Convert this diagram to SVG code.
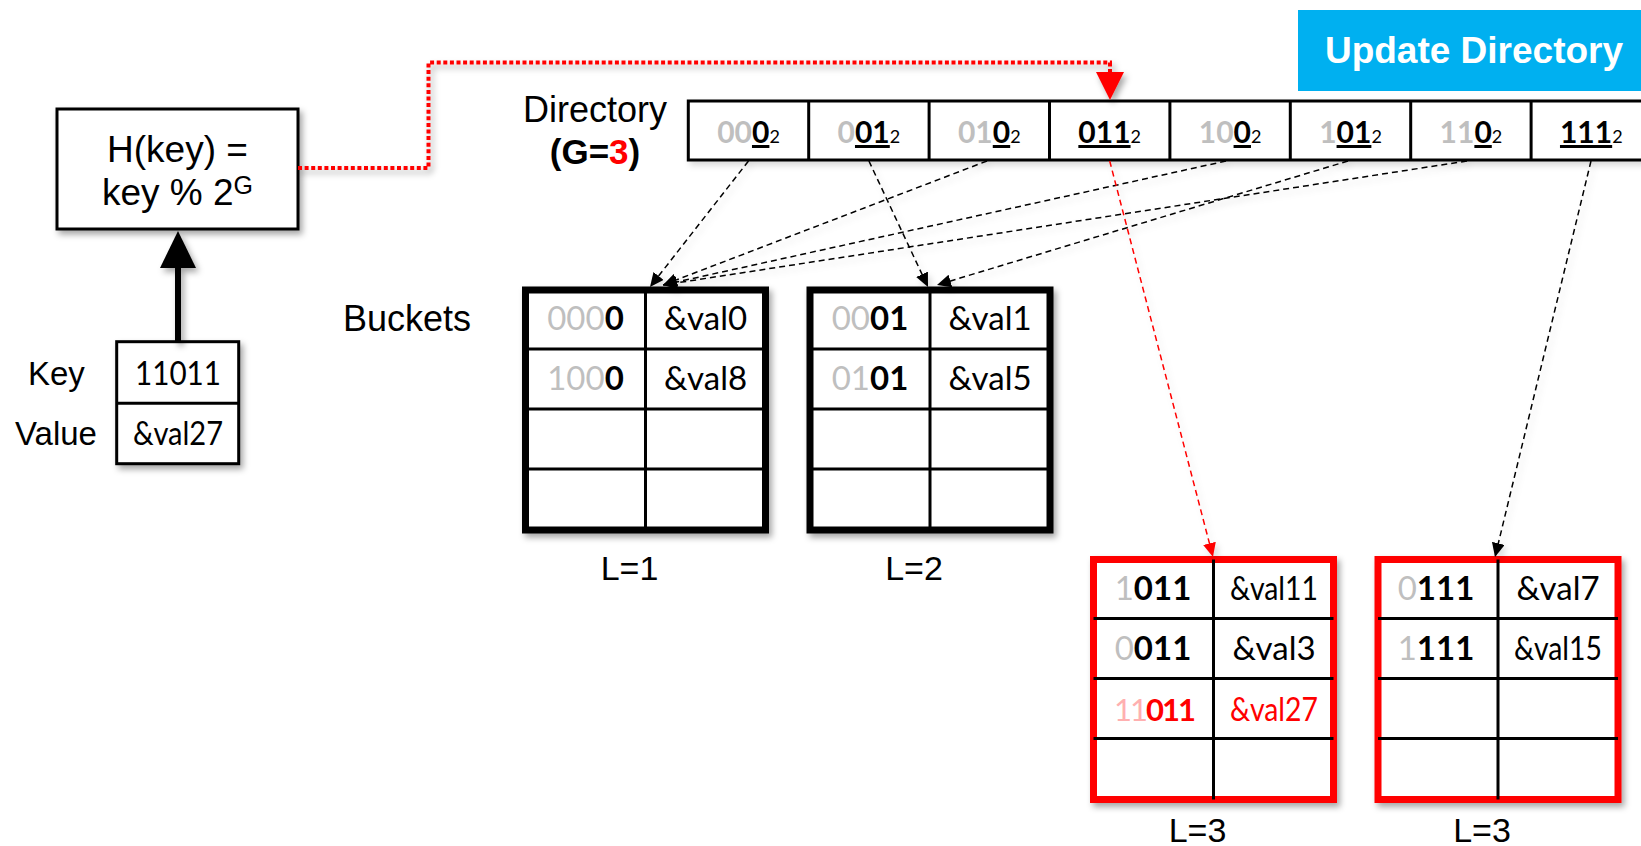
<svg xmlns="http://www.w3.org/2000/svg" width="1641" height="846" viewBox="0 0 1641 846">
<style>
.bk{fill:#fff;stroke:#000;stroke-width:7}
.bkr{fill:#fff;stroke:#FF0000;stroke-width:7}
.box{fill:#fff;stroke:#000;stroke-width:3}
.gl{stroke:#000;stroke-width:3;fill:none}
.ar{font-family:"Liberation Sans",Arial,sans-serif;fill:#000}
.ct{font-family:Lato,"Liberation Sans",sans-serif;font-size:33px;text-anchor:middle;fill:#000}
.dt{font-family:Lato,"Liberation Sans",sans-serif;font-size:30px;font-weight:bold;text-anchor:middle;fill:#000}
.g{fill:#BFBFBF;font-weight:normal}
.gd{fill:#BFBFBF}
.b{font-weight:bold}
.u{text-decoration:underline;text-decoration-thickness:3px}
.sub{font-size:18px;font-weight:normal}
.lbl{font-family:"Liberation Sans",Arial,sans-serif;font-size:34px;text-anchor:middle;fill:#000}
.dash{fill:none;stroke:#000;stroke-width:1.5;stroke-dasharray:6 4}
</style>
<defs>
<filter id="sh" x="-10%" y="-10%" width="130%" height="130%">
<feDropShadow dx="3" dy="4" stdDeviation="3" flood-color="#000" flood-opacity="0.35"/>
</filter>
<filter id="shl" x="-10%" y="-10%" width="130%" height="130%">
<feDropShadow dx="3" dy="4" stdDeviation="3" flood-color="#000" flood-opacity="0.15"/>
</filter>
<marker id="ah" markerUnits="userSpaceOnUse" markerWidth="14" markerHeight="13" refX="14" refY="6.5" orient="auto">
<path d="M0,0 L14,6.5 L0,13 z" fill="#000"/>
</marker>
<marker id="ahr" markerUnits="userSpaceOnUse" markerWidth="14" markerHeight="13" refX="14" refY="6.5" orient="auto">
<path d="M0,0 L14,6.5 L0,13 z" fill="#FF0000"/>
</marker>
</defs>

<rect width="1641" height="846" fill="#fff"/>

<g id="update-directory">
<rect x="1298" y="10" width="350" height="81" fill="#00B0F0"/>
<text x="1474" y="63" class="ar" style="font-size:37px;font-weight:bold;fill:#fff;text-anchor:middle">Update Directory</text>
</g>

<g id="hash">
<rect x="57" y="109" width="241" height="120" class="box" filter="url(#sh)"/>
<text x="177.5" y="162" class="ar" style="font-size:37px;text-anchor:middle">H(key) =</text>
<text x="177.5" y="205" class="ar" style="font-size:37px;text-anchor:middle">key % 2<tspan dy="-11" style="font-size:25px">G</tspan></text>
</g>

<g id="labels">
<text x="595" y="122" class="ar" style="font-size:36px;text-anchor:middle">Directory</text>
<text x="595" y="164" class="ar" style="font-size:35px;font-weight:bold;text-anchor:middle">(G=<tspan fill="#FF0000">3</tspan>)</text>
<text x="343" y="331" class="ar" style="font-size:36px">Buckets</text>
<text x="28" y="385" class="ar" style="font-size:33px">Key</text>
<text x="15" y="445" class="ar" style="font-size:33px">Value</text>
</g>

<g id="record">
<rect x="116.7" y="341.7" width="122" height="122" class="box" filter="url(#sh)"/>
<line x1="116.7" y1="403.3" x2="238.7" y2="403.3" class="gl"/>
<text x="178" y="385" class="ct" style="font-size:33px" textLength="86" lengthAdjust="spacingAndGlyphs">11011</text>
<text x="178" y="445" class="ct" style="font-size:33px" textLength="90" lengthAdjust="spacingAndGlyphs">&amp;val27</text>
</g>

<g id="directory">
<rect x="688.3" y="101" width="960" height="59" class="box" filter="url(#shl)"/>
<path class="gl" d="M808.7,101V160M929.1,101V160M1049.5,101V160M1169.9,101V160M1290.3,101V160M1410.7,101V160M1531.1,101V160"/>
<text x="748.5" y="143" class="dt"><tspan class="gd">00</tspan><tspan class="u">0</tspan><tspan class="sub">2</tspan></text>
<text x="868.9" y="143" class="dt"><tspan class="gd">0</tspan><tspan class="u">01</tspan><tspan class="sub">2</tspan></text>
<text x="989.3" y="143" class="dt"><tspan class="gd">01</tspan><tspan class="u">0</tspan><tspan class="sub">2</tspan></text>
<text x="1109.7" y="143" class="dt"><tspan class="u">011</tspan><tspan class="sub">2</tspan></text>
<text x="1230.1" y="143" class="dt"><tspan class="gd">10</tspan><tspan class="u">0</tspan><tspan class="sub">2</tspan></text>
<text x="1350.5" y="143" class="dt"><tspan class="gd">1</tspan><tspan class="u">01</tspan><tspan class="sub">2</tspan></text>
<text x="1470.9" y="143" class="dt"><tspan class="gd">11</tspan><tspan class="u">0</tspan><tspan class="sub">2</tspan></text>
<text x="1591.3" y="143" class="dt"><tspan class="u">111</tspan><tspan class="sub">2</tspan></text>
</g>

<g id="bucket1">
<rect x="525.5" y="290" width="240" height="240" class="bk" filter="url(#sh)"/>
<path class="gl" d="M645.5,290V530M525.5,349H765.5M525.5,409H765.5M525.5,469H765.5"/>
<text x="585.5" y="330" class="ct"><tspan class="g">000</tspan><tspan class="b">0</tspan></text>
<text x="705.5" y="330" class="ct">&amp;val0</text>
<text x="585.5" y="390" class="ct"><tspan class="g">100</tspan><tspan class="b">0</tspan></text>
<text x="705.5" y="390" class="ct">&amp;val8</text>
<text x="629.5" y="580" class="lbl">L=1</text>
</g>

<g id="bucket2">
<rect x="810" y="290" width="240" height="240" class="bk" filter="url(#sh)"/>
<path class="gl" d="M930,290V530M810,349H1050M810,409H1050M810,469H1050"/>
<text x="870" y="330" class="ct"><tspan class="g">00</tspan><tspan class="b">01</tspan></text>
<text x="990" y="330" class="ct">&amp;val1</text>
<text x="870" y="390" class="ct"><tspan class="g">01</tspan><tspan class="b">01</tspan></text>
<text x="990" y="390" class="ct">&amp;val5</text>
<text x="914" y="580" class="lbl">L=2</text>
</g>

<g id="bucket3">
<rect x="1093.5" y="559.5" width="240" height="240" class="bkr" filter="url(#sh)"/>
<path class="gl" d="M1213.5,559.5V799.5M1093.5,618.5H1333.5M1093.5,678.5H1333.5M1093.5,738.5H1333.5"/>
<text x="1153" y="599.5" class="ct"><tspan class="g">1</tspan><tspan class="b">011</tspan></text>
<text x="1274" y="599.5" class="ct" textLength="88" lengthAdjust="spacingAndGlyphs">&amp;val11</text>
<text x="1153" y="659.5" class="ct"><tspan class="g">0</tspan><tspan class="b">011</tspan></text>
<text x="1274" y="659.5" class="ct">&amp;val3</text>
<text x="1154" y="720.5" class="ct" style="font-size:31px;letter-spacing:-2px"><tspan fill="#FFB0B0">11</tspan><tspan class="b" fill="#FF0000">011</tspan></text>
<text x="1274" y="720.5" class="ct" style="fill:#FF0000" textLength="88" lengthAdjust="spacingAndGlyphs">&amp;val27</text>
<text x="1197.5" y="842" class="lbl">L=3</text>
</g>

<g id="bucket4">
<rect x="1378" y="559.5" width="240" height="240" class="bkr" filter="url(#sh)"/>
<path class="gl" d="M1498,559.5V799.5M1378,618.5H1618M1378,678.5H1618M1378,738.5H1618"/>
<text x="1436" y="599.5" class="ct"><tspan class="g">0</tspan><tspan class="b">111</tspan></text>
<text x="1558" y="599.5" class="ct">&amp;val7</text>
<text x="1436" y="659.5" class="ct"><tspan class="g">1</tspan><tspan class="b">111</tspan></text>
<text x="1558" y="659.5" class="ct" textLength="88" lengthAdjust="spacingAndGlyphs">&amp;val15</text>
<text x="1482" y="842" class="lbl">L=3</text>
</g>

<g id="connectors">
<g filter="url(#shl)">
<path class="dash" d="M748.5,161L650,287" marker-end="url(#ah)"/>
<path class="dash" d="M987,161L663,285" marker-end="url(#ah)"/>
<path class="dash" d="M1226,161L663,285" marker-end="url(#ah)"/>
<path class="dash" d="M1467,161L663,285" marker-end="url(#ah)"/>
<path class="dash" d="M868.9,161L928,287" marker-end="url(#ah)"/>
<path class="dash" d="M1348,161L937,285" marker-end="url(#ah)"/>
<path class="dash" d="M1591,161L1495,557" marker-end="url(#ah)"/>
<path class="dash" d="M1109.7,161L1213,557" style="stroke:#FF0000" marker-end="url(#ahr)"/>
</g>
<g filter="url(#sh)">
<line x1="178" y1="342" x2="178" y2="264" stroke="#000" stroke-width="6"/>
<polygon points="160,268 196,268 178,231" fill="#000"/>
<path d="M298,168H428.5V62.5H1110V74" fill="none" stroke="#FF0000" stroke-width="4" stroke-dasharray="4 2.6"/>
<polygon points="1096,72 1124,72 1110,100" fill="#FF0000"/>
</g>
</g>
</svg>
